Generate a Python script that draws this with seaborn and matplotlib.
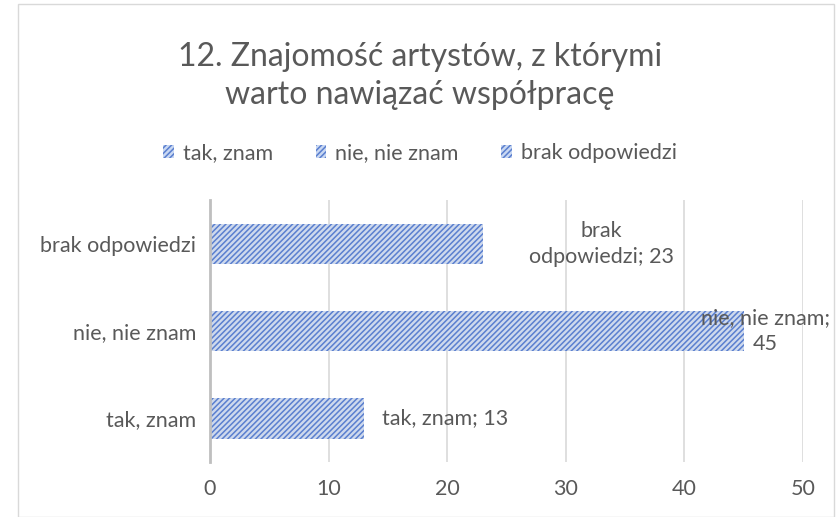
import pandas as pd
import seaborn as sns
import matplotlib.pyplot as plt
from matplotlib.patches import Patch, Rectangle

# dane
categories = ['tak, znam', 'nie, nie znam', 'brak odpowiedzi']
values = [13, 45, 23]
label_texts = ['tak, znam; 13', 'nie, nie znam;\n45', 'brak\nodpowiedzi; 23']
x_ticks = [0, 10, 20, 30, 40, 50]
title = '12. Znajomość artystów, z którymi\nwarto nawiązać współpracę'

text_color = '#595959'
face = '#c9d8f2'
hatch_col = '#5a7fcf'
fs = 15.5

sns.set_style('white')
plt.rcParams['font.family'] = ['Lato', 'DejaVu Sans']
plt.rcParams['hatch.linewidth'] = 1.1

df = pd.DataFrame({'odp': categories, 'n': values})

fig = plt.figure(figsize=(8.4, 5.17), dpi=100)
ax = fig.add_axes([0.25, 0.106, 0.706, 0.507])

sns.barplot(data=df, y='odp', x='n', hue='odp', hue_order=categories,
            order=categories[::-1], dodge=False, width=0.46,
            palette=[face] * 3, legend=False, ax=ax)

for bar in ax.patches:
    bar.set_hatch('//////')
    bar.set_edgecolor(hatch_col)
    bar.set_linewidth(0)

ax.set_xlim(0, 50)
ax.set_ylim(2.5, -0.5)
ax.set_xticks(x_ticks)
ax.set_xlabel('')
ax.set_ylabel('')
ax.tick_params(axis='both', labelsize=fs, colors=text_color, length=0, pad=10)
ax.tick_params(axis='x', pad=12)
ax.grid(axis='x', color='#d9d9d9', linewidth=1.2)
ax.set_axisbelow(True)
for s in ['top', 'right', 'bottom']:
    ax.spines[s].set_visible(False)
ax.spines['left'].set_color('#bfbfbf')
ax.spines['left'].set_linewidth(2)
ax.set_yticks([-0.5, 0.5, 1.5, 2.5], minor=True)
ax.tick_params(axis='y', which='minor', length=6, width=2, color='#bfbfbf')

# etykiety danych
pos = {c: i for i, c in enumerate(categories[::-1])}
ax.text(values[0] + 1.5, pos['tak, znam'], label_texts[0], va='center', ha='left',
        fontsize=fs, color=text_color)
ax.text(values[1] + 1.8, pos['nie, nie znam'], label_texts[1], va='center', ha='center',
        fontsize=fs, color=text_color, linespacing=1.35)
ax.text(values[2] + 10, pos['brak odpowiedzi'], label_texts[2], va='center', ha='center',
        fontsize=fs, color=text_color, linespacing=1.35)

# legenda
handles = [Patch(facecolor=face, edgecolor=hatch_col, hatch='//////', linewidth=0)
           for _ in categories]
fig.legend(handles, categories, loc='center', bbox_to_anchor=(0.5, 0.704), ncol=3,
           frameon=False, fontsize=fs, labelcolor=text_color,
           handlelength=0.5, handleheight=0.5, columnspacing=2.0, handletextpad=0.4)

fig.text(0.5, 0.853, title, ha='center', va='center', fontsize=23,
         color=text_color, linespacing=1.35)

fig.patches.append(Rectangle((18 / 840, 0), 816 / 840, 513 / 517, transform=fig.transFigure,
                             fill=False, edgecolor='#d9d9d9', linewidth=1))

plt.savefig('out.png', dpi=100)
